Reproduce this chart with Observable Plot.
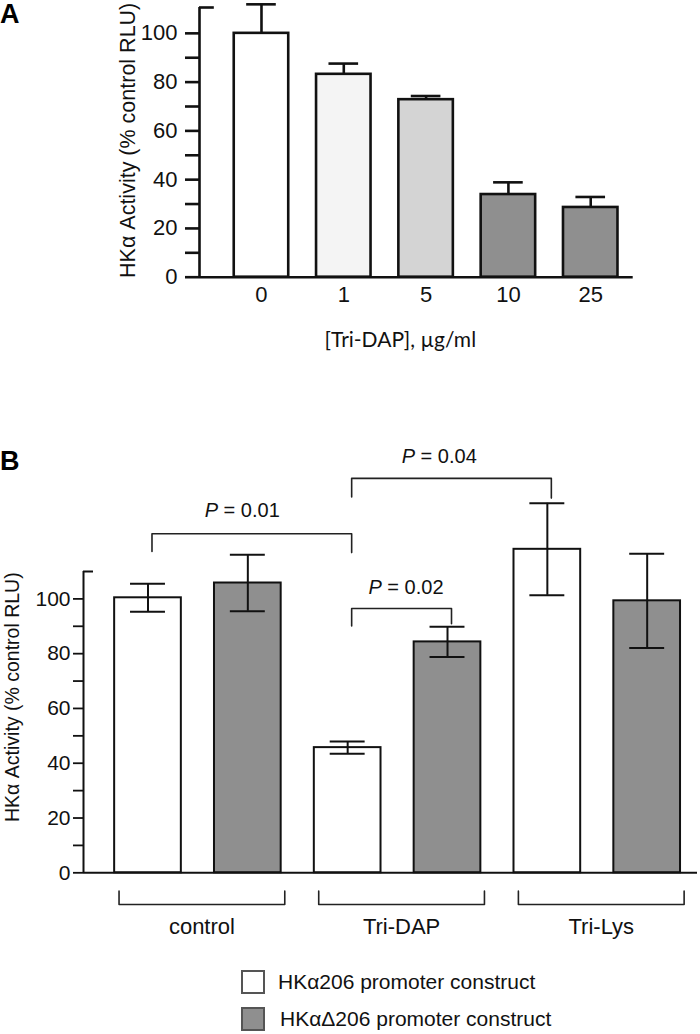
<!DOCTYPE html>
<html>
<head>
<meta charset="utf-8">
<script src="https://cdn.jsdelivr.net/npm/d3@7"></script>
<script src="https://cdn.jsdelivr.net/npm/@observablehq/plot@0.6"></script>
<style>
  html, body { margin: 0; padding: 0; background: #fff; }
  #wrap { position: relative; width: 700px; height: 1034px; overflow: hidden; font-family: "Liberation Sans", Arial, sans-serif; }
  .panel { position: absolute; left: 0; }
  .tag { position: absolute; left: 0; font-weight: bold; font-size: 27px; line-height: 1; color: #000; }
  .leg { position: absolute; font-size: 21px; line-height: 1; color: #111; white-space: nowrap; }
  .sw { position: absolute; width: 20px; height: 20px; border: 2px solid #555; box-sizing: content-box; }
</style>
</head>
<body>
<div id="wrap">
  <div id="pa" class="panel" style="top:0"></div>
  <div id="pb" class="panel" style="top:370px"></div>
  <div class="tag" style="top:1px">A</div>
  <div class="tag" style="top:448px">B</div>
  <div id="legend"></div>
</div>
<script>
// ---------- Panel A data ----------
const concA = ["0", "1", "5", "10", "25"];
const activityA = [100, 83.2, 72.8, 33.9, 28.6];
const errorA = [11.9, 4.4, 1.5, 5.0, 4.3];
const fillA = ["#ffffff", "#f4f4f4", "#d4d4d4", "#8f8f8f", "#8f8f8f"];
const yMajor = [0, 20, 40, 60, 80, 100];
const yMinor = [10, 30, 50, 70, 90];
const xLabelA = "[Tri-DAP], µg/ml";
const yLabel = "HKα Activity (% control RLU)";

// ---------- Panel B data ----------
const groupsB = ["control", "Tri-DAP", "Tri-Lys"];
const constructs = ["HKα206 promoter construct", "HKαΔ206 promoter construct"];
const activity206 = [100.4, 45.7, 118.1];
const error206 = [5.1, 2.2, 16.8];
const activityD206 = [105.8, 84.3, 99.3];
const errorD206 = [10.3, 5.5, 17.2];
const fillB = ["#ffffff", "#8f8f8f"];
// significance brackets: bar indices (group*2 + construct), bracket levels in % units
const comparisons = [
  {from: 0, to: 2, p: "0.01", top: 123.8, footFrom: 117.3, footTo: 116.9, labelX: 0.944, labelY: 129.8},
  {from: 2, to: 4, p: "0.04", top: 144.0, footFrom: 137.2, footTo: 136.8, labelX: 2.917, labelY: 149.6},
  {from: 2, to: 3, p: "0.02", top: 96.5, footFrom: 90.1, footTo: 90.9, labelX: 2.584, labelY: 101.8}
];

const font = "Liberation Sans, Arial, sans-serif";

// ---------- Panel A ----------
const dataA = concA.map((c, i) => ({i, conc: c, v: activityA[i], e: errorA[i], fill: fillA[i]}));
const xDomA = [-0.753, 4.516];
const yMaxA = 110.6;
const hwA = 0.331, capA = 0.18;

const plotA = Plot.plot({
  width: 700, height: 370,
  marginLeft: 199, marginRight: 67.3, marginTop: 7, marginBottom: 93.3,
  x: {type: "linear", domain: xDomA, axis: null},
  y: {domain: [0, yMaxA], axis: null},
  color: {type: "identity"},
  style: {fontFamily: font, background: "transparent", color: "#111", overflow: "visible"},
  marks: [
    Plot.rectY(dataA, {x1: d => d.i - hwA, x2: d => d.i + hwA, y1: 0, y2: "v", fill: "fill", stroke: "#111", strokeWidth: 2.6}),
    Plot.ruleX(dataA, {x: "i", y1: "v", y2: d => d.v + d.e, stroke: "#111", strokeWidth: 2.6}),
    Plot.ruleY(dataA, {y: d => d.v + d.e, x1: d => d.i - capA, x2: d => d.i + capA, stroke: "#111", strokeWidth: 2.6}),
    Plot.ruleY([0], {stroke: "#111", strokeWidth: 2.6}),
    Plot.ruleX([xDomA[0]], {y1: 0, y2: yMaxA, stroke: "#111", strokeWidth: 2.6}),
    Plot.ruleY([yMaxA], {x1: xDomA[0], x2: xDomA[0] + 0.18, stroke: "#111", strokeWidth: 2.6}),
    Plot.axisY(yMajor, {tickSize: 14, tickPadding: 8, fontSize: 22, strokeWidth: 2.6, label: null}),
    Plot.axisY(yMinor, {tickSize: 14, tickFormat: () => "", strokeWidth: 2.6, label: null}),
    Plot.axisX(dataA.map(d => d.i), {tickSize: 0, tickPadding: 9, tickFormat: i => concA[i], fontSize: 22, label: null}),
    Plot.text([xLabelA], {frameAnchor: "bottom", textAnchor: "middle", lineAnchor: "middle", dx: -16, dy: 63, fontFamily: "Lato, Open Sans, sans-serif", fontSize: 21}),
    Plot.text([yLabel], {frameAnchor: "left", textAnchor: "middle", lineAnchor: "middle", rotate: -90, dx: -71, dy: -2, fontSize: 21.5})
  ]
});
document.getElementById("pa").appendChild(plotA);

// ---------- Panel B ----------
const dataB = groupsB.flatMap((g, gi) => [
  {idx: gi * 2, group: g, construct: constructs[0], v: activity206[gi], e: error206[gi], fill: fillB[0]},
  {idx: gi * 2 + 1, group: g, construct: constructs[1], v: activityD206[gi], e: errorD206[gi], fill: fillB[1]}
]);
const xDomB = [-0.646, 5.504];
const yMaxB = 110;
const hwB = 0.334, capB = 0.175, shift = 0.04;

const groupBrackets = groupsB.flatMap((g, gi) => {
  const a = gi * 2 - 0.29, b = gi * 2 + 1 + 0.37;
  return [
    {g, x: a, y: -6.7}, {g, x: a, y: -11.6}, {g, x: b, y: -11.6}, {g, x: b, y: -6.7}
  ];
});
const pBrackets = comparisons.flatMap((c, k) => [
  {k, x: c.from + shift, y: c.footFrom},
  {k, x: c.from + shift, y: c.top},
  {k, x: c.to + shift, y: c.top},
  {k, x: c.to + shift, y: c.footTo}
]);

const plotB = Plot.plot({
  width: 700, height: 585,
  marginLeft: 83, marginRight: 3, marginTop: 201, marginBottom: 82.7,
  x: {type: "linear", domain: xDomB, axis: null},
  y: {domain: [0, yMaxB], axis: null},
  color: {type: "identity"},
  style: {fontFamily: font, background: "transparent", color: "#111", overflow: "visible"},
  marks: [
    Plot.rectY(dataB, {x1: d => d.idx - hwB, x2: d => d.idx + hwB, y1: 0, y2: "v", fill: "fill", stroke: "#111", strokeWidth: 2}),
    Plot.ruleX(dataB, {x: "idx", y1: d => d.v - d.e, y2: d => d.v + d.e, stroke: "#111", strokeWidth: 2}),
    Plot.ruleY(dataB, {y: d => d.v + d.e, x1: d => d.idx - capB, x2: d => d.idx + capB, stroke: "#111", strokeWidth: 2}),
    Plot.ruleY(dataB, {y: d => d.v - d.e, x1: d => d.idx - capB, x2: d => d.idx + capB, stroke: "#111", strokeWidth: 2}),
    Plot.ruleY([0], {stroke: "#111", strokeWidth: 2}),
    Plot.ruleX([xDomB[0]], {y1: 0, y2: yMaxB, stroke: "#111", strokeWidth: 2}),
    Plot.ruleY([yMaxB], {x1: xDomB[0], x2: xDomB[0] + 0.1, stroke: "#111", strokeWidth: 2}),
    Plot.axisY(yMajor, {tickSize: 10, tickPadding: 3, fontSize: 21, strokeWidth: 1.8, label: null}),
    Plot.axisY(yMinor, {tickSize: 10, tickFormat: () => "", strokeWidth: 1.8, label: null}),
    Plot.axisX([0.5, 2.5, 4.5], {tickSize: 0, tickPadding: 46, dx: 4, tickFormat: v => groupsB[Math.round((v - 0.5) / 2)], fontSize: 22, label: null}),
    Plot.line(groupBrackets, {x: "x", y: "y", z: "g", stroke: "#222", strokeWidth: 1.6, curve: "linear"}),
    Plot.line(pBrackets, {x: "x", y: "y", z: "k", stroke: "#222", strokeWidth: 1.6, curve: "linear"}),
    Plot.text(comparisons, {x: "labelX", y: "labelY", text: d => `P = ${d.p}`, fontSize: 20, dy: -6.4}),
    Plot.text([yLabel], {frameAnchor: "left", textAnchor: "middle", lineAnchor: "middle", rotate: -90, dx: -70.5, dy: -25, fontSize: 19.5})
  ]
});
// italicise the "P" of the p-value labels
d3.select(plotB).selectAll("text").each(function () {
  const t = this.textContent;
  if (/^P = /.test(t)) {
    const rest = t.slice(1);
    this.textContent = "";
    d3.select(this).append("tspan").attr("font-style", "italic").text("P");
    d3.select(this).append("tspan").text(rest);
  }
});
document.getElementById("pb").appendChild(plotB);

// ---------- Legend (HTML, below the chart) ----------
const legend = document.getElementById("legend");
constructs.forEach((name, i) => {
  const top = [970, 1007][i];
  const sw = document.createElement("div");
  sw.className = "sw";
  sw.style.left = "241px";
  sw.style.top = top + "px";
  sw.style.background = fillB[i];
  legend.appendChild(sw);
  const tx = document.createElement("div");
  tx.className = "leg";
  tx.style.left = (i === 0 ? 278 : 280) + "px";
  tx.style.top = (top + 1) + "px";
  tx.textContent = name;
  legend.appendChild(tx);
});
</script>
</body>
</html>
